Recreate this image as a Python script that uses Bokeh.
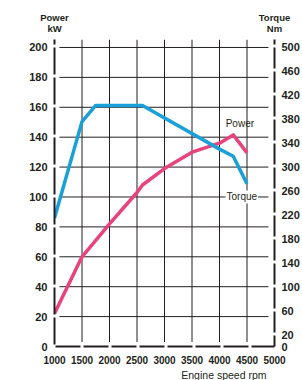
from bokeh.plotting import figure
from bokeh.models import Range1d, LinearAxis, FixedTicker, Label, Title
from bokeh.embed import file_html
from bokeh.resources import INLINE

# ---- data ----
rpm_ticks = [1000, 1500, 2000, 2500, 3000, 3500, 4000, 4500, 5000]
power_ticks = [0, 20, 40, 60, 80, 100, 120, 140, 160, 180, 200]
torque_ticks = [0, 20, 60, 100, 140, 180, 220, 260, 300, 340, 380, 420, 460, 500]

power_rpm = [1000, 1500, 2000, 2500, 2600, 3000, 3500, 4000, 4250, 4500]
power_kw = [22, 60, 82, 103, 108, 119, 130, 136, 141.5, 129.5]

torque_rpm = [1000, 1500, 1750, 2600, 4000, 4250, 4500]
torque_nm = [215, 376, 403, 403, 330, 318, 272]

axis_titles = {1000: "Power\nkW", 5000: "Torque\nNm"}
x_title = "Engine speed rpm"

INK = "#231f20"
BLUE = "#1aa0d8"
PINK = "#e8437a"
FONT = "Liberation Sans"

p = figure(width=302, height=380,
           x_range=Range1d(1000, 5000), y_range=Range1d(0, 205.333),
           output_backend="svg", toolbar_location=None,
           min_border_left=54, min_border_right=26,
           min_border_top=39, min_border_bottom=33)
p.outline_line_color = None
p.xgrid.grid_line_color = None
p.ygrid.grid_line_color = None
p.extra_y_ranges = {"torque": Range1d(0, 513.333)}

def bare(ax):
    ax.major_tick_line_color = None
    ax.minor_tick_line_color = None
    ax.major_tick_out = 0
    ax.major_tick_in = 0
    ax.minor_tick_out = 0
    ax.minor_tick_in = 0

def style_axis(ax, dash, offset, size, standoff=7):
    bare(ax)
    ax.axis_line_color = INK
    ax.axis_line_width = 2
    ax.axis_line_dash = dash
    ax.axis_line_dash_offset = offset
    ax.major_label_standoff = standoff
    ax.major_label_text_font = FONT
    ax.major_label_text_font_style = "bold"
    ax.major_label_text_font_size = size
    ax.major_label_text_color = INK

p.xaxis.ticker = FixedTicker(ticks=rpm_ticks)
style_axis(p.xaxis[0], "25 3", -1, "10px", standoff=9)
p.yaxis.ticker = FixedTicker(ticks=power_ticks)
style_axis(p.yaxis[0], "27 3", -2, "11px")

rax = LinearAxis(y_range_name="torque", ticker=FixedTicker(ticks=torque_ticks))
style_axis(rax, "21 3", 10, "11px")
p.add_layout(rax, "right")

# unit titles over the two value axes (as tick labels of a bare top axis)
tax = LinearAxis(ticker=FixedTicker(ticks=list(axis_titles.keys())),
                 major_label_overrides=axis_titles)
bare(tax)
tax.axis_line_color = None
tax.major_label_standoff = 6
tax.major_label_text_font = FONT
tax.major_label_text_font_style = "bold"
tax.major_label_text_font_size = "9.5px"
tax.major_label_text_line_height = 0.95
tax.major_label_text_color = INK
p.add_layout(tax, "above")

# x-axis title, right aligned at the right axis
p.add_layout(Title(text=x_title, align="right", text_font=FONT,
                   text_font_size="10.5px", text_font_style="normal",
                   text_color=INK, standoff=0, offset=8), "below")

# grid lines (from tick arrays)
hy = power_ticks[1:]
p.segment(x0=[1000 + 90] * len(hy), x1=[5000 - 110] * len(hy), y0=hy, y1=hy,
          line_color=INK, line_width=1)
vx = rpm_ticks[1:-1]
p.segment(x0=vx, x1=vx, y0=[3] * len(vx), y1=[205.333] * len(vx),
          line_color=INK, line_width=1)

# curves
p.line(power_rpm, power_kw, line_color=PINK, line_width=3.5, line_join="round")
p.line(torque_rpm, torque_nm, y_range_name="torque", line_color=BLUE,
       line_width=3.5, line_join="round")

# in-plot labels
p.add_layout(Label(x=4370, y=149, text="Power", text_align="center",
                   text_baseline="middle", text_font=FONT,
                   text_font_size="10px", text_color=INK))
p.add_layout(Label(x=4405, y=100, text="Torque", text_align="center",
                   text_baseline="middle", text_font=FONT,
                   text_font_size="10px", text_color=INK,
                   background_fill_color="white", padding=1))

open("out.html", "w").write(file_html(p, INLINE))
